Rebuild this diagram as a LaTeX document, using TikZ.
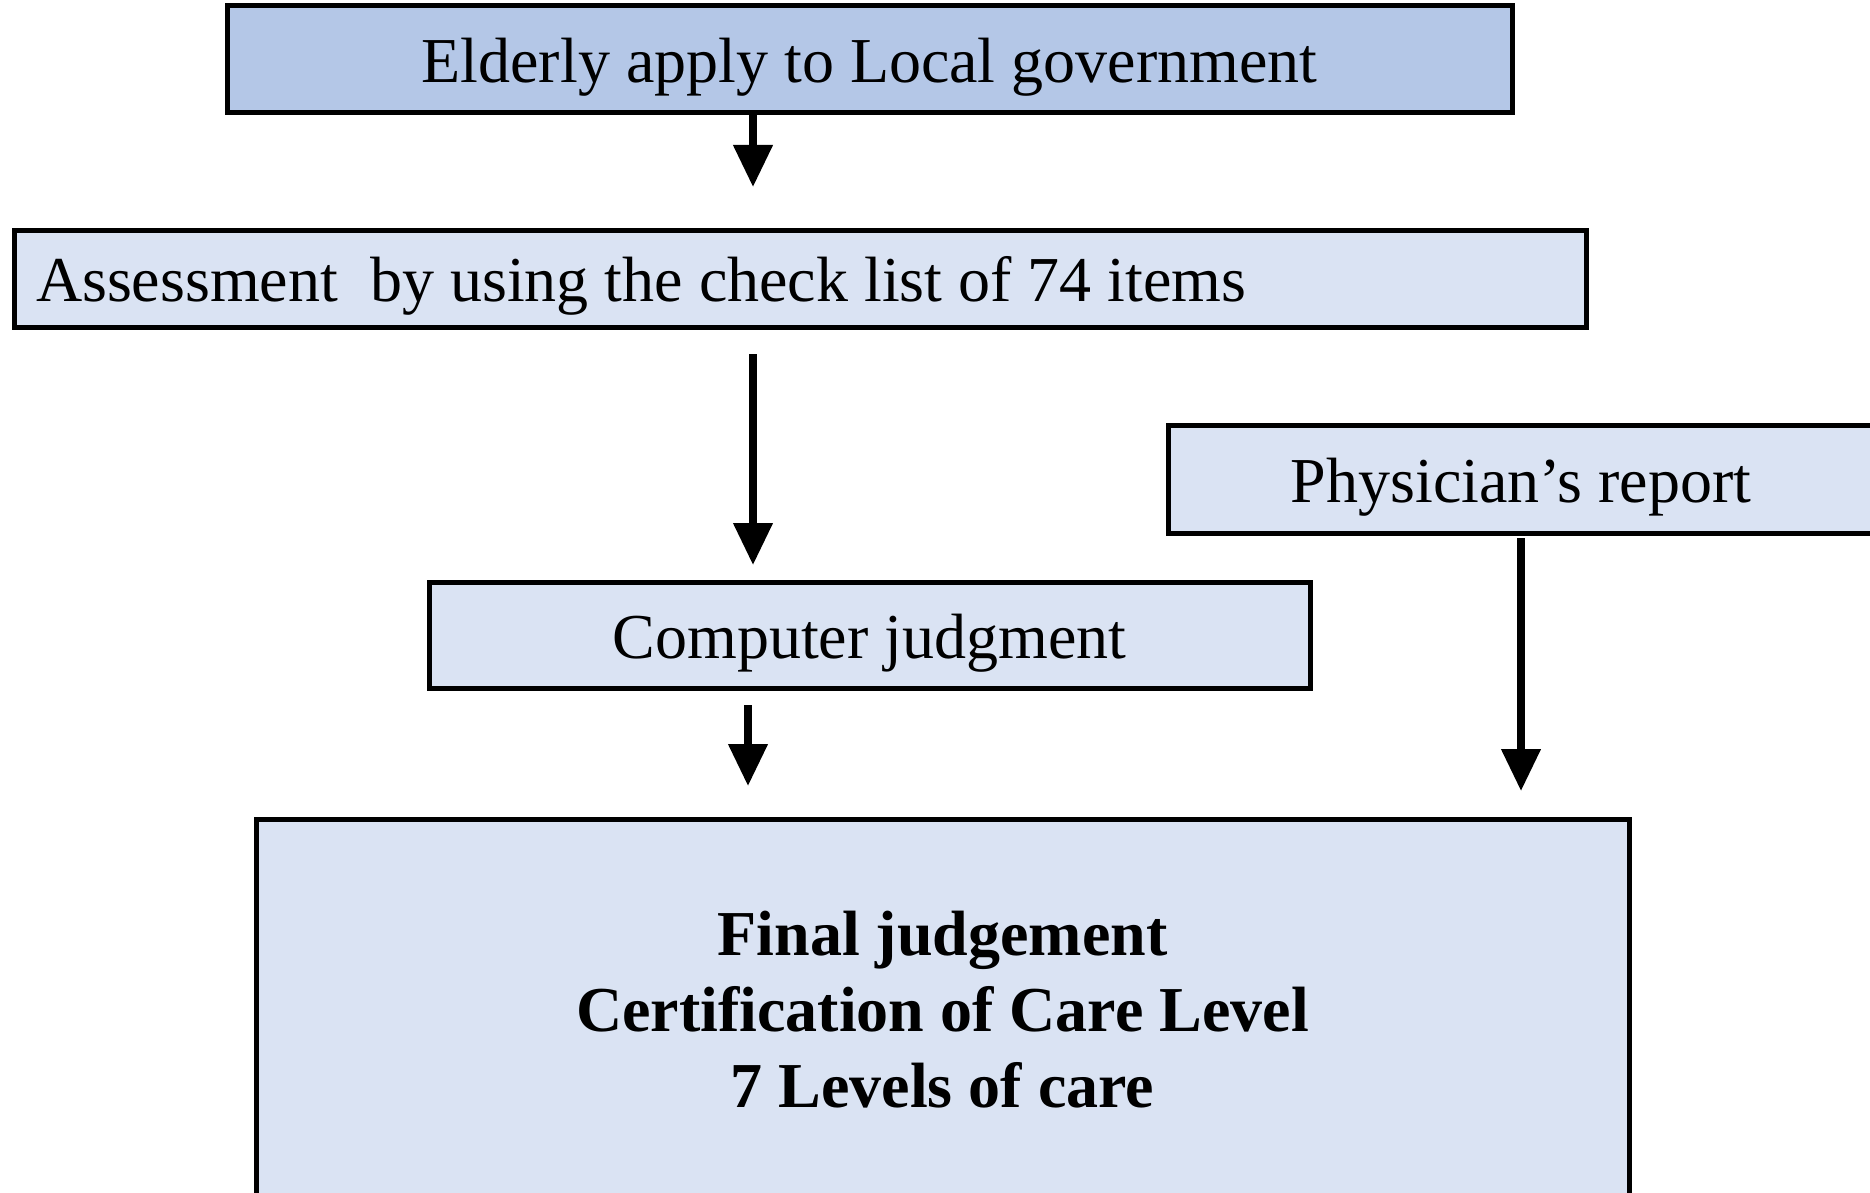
\documentclass[tikz,border=0pt]{standalone}
\usepackage{fontspec}
\setmainfont{Liberation Serif}
\usepackage{tikz}
\usetikzlibrary{positioning, arrows.meta}
\definecolor{applyblue}{HTML}{B4C7E7}
\definecolor{paleblue}{HTML}{DAE3F3}
\tikzset{
    block/.style={
        draw, line width = 2.5pt,
        fill = paleblue,
        outer sep = 0pt,
        align = center,
        text height = 28pt, text depth = 4.8pt,
        font = \fontsize{32pt}{38pt}\selectfont
    },
    line/.style = {line width = 3.75pt, -{Triangle[length=21pt,width=19pt]}}
}
\begin{document}
\begin{tikzpicture}[x=0.5pt, y=-0.5pt]

    \useasboundingbox (0,0) rectangle (1870,1193);
    \clip (0,0) rectangle (1870,1193);

    % Boxes
    \node[block, fill = applyblue, minimum width = 642.5pt, minimum height = 53.5pt] (apply) at (869.5,59.5) {Elderly apply to Local government};
    \node[block, minimum width = 786pt, minimum height = 48.5pt, text width = 764pt, inner xsep = 11pt, align = flush left] (assess) at (800,278.5) {Assessment\ \ by using the check list of 74 items};
    \node[block, minimum width = 353pt, minimum height = 54pt] (phys) at (1521,479) {Physician’s report};
    \node[block, minimum width = 440.5pt, minimum height = 53pt] (computer) at (869.5,635) {Computer judgment};
    \node[block, minimum width = 686.5pt, minimum height = 191pt, text height = , text depth = , font = \fontsize{32pt}{38pt}\selectfont\bfseries] (final) at (942.5,1010) {Final judgement\\Certification of Care Level\\7 Levels of care};

    % Arrows
    \coordinate (colA) at (753,0);
    \coordinate (colB) at (748,0);
    \coordinate (colC) at (1521,0);
    \draw[line, shorten >= 21.5pt] (apply.south -| colA) -- (assess.north -| colA);
    \draw[line, shorten <= 13.5pt, shorten >= 8.5pt] (assess.south -| colA) -- (computer.north -| colA);
    \draw[line, shorten <= 8.5pt, shorten >= 16.5pt] (computer.south -| colB) -- (final.north -| colB);
    \draw[line, shorten <= 2.5pt, shorten >= 14pt] (phys.south -| colC) -- (final.north -| colC);

\end{tikzpicture}
\end{document}
